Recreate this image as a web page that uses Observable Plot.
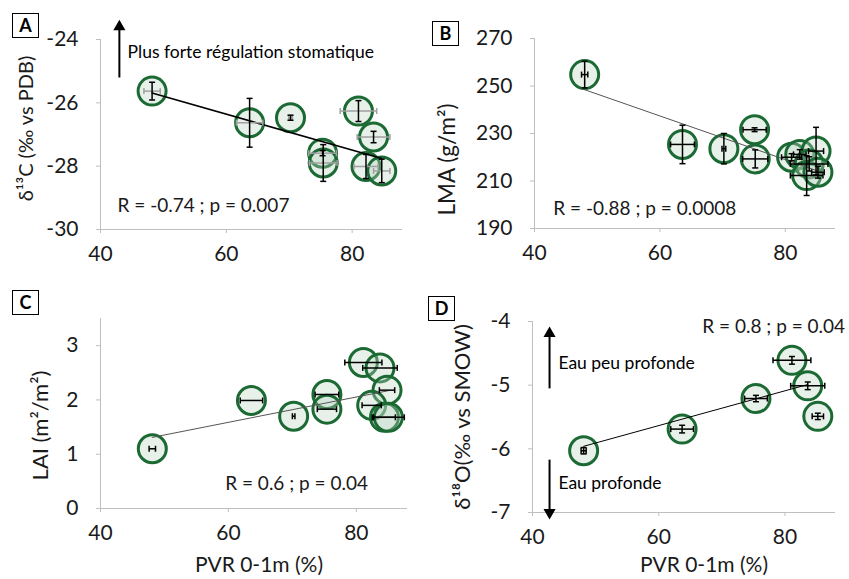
<!DOCTYPE html>
<html><head><meta charset="utf-8">
<script src="https://cdn.jsdelivr.net/npm/d3@7"></script>
<script src="https://cdn.jsdelivr.net/npm/@observablehq/plot@0.6"></script>
<style>
body{margin:0;background:#fff;}
#wrap{position:relative;width:849px;height:579px;overflow:hidden;background:#fff;font-family:Lato,"Open Sans",sans-serif;}
.panel{position:absolute;}
.tag{position:absolute;border:1px solid #000;font:bold 18px Lato,"Open Sans",sans-serif;text-align:center;line-height:23px;width:25px;height:23px;background:#fff;color:#000;}
</style></head><body><div id="wrap"></div>
<script>
// ---------- shared ----------
const xTicks = [40, 60, 80];
const xTitle = "PVR 0-1m (%)";

// ---------- Panel A : δ13C ----------
const pvrA    = [48.2, 63.7, 70.2, 75.3, 75.4, 81.0, 83.4, 82.2, 84.7];
const pvrErrA = [1.3, 2.1, 0.3, 2.2, 2.2, 2.9, 2.6, 1.9, 1.3];
const d13C    = [-25.63, -26.63, -26.47, -27.59, -27.9, -26.26, -27.08, -28.01, -28.15];
const d13CErr = [0.28, 0.77, 0.08, 0.08, 0.58, 0.33, 0.18, 0.38, 0.37];
const fitAx = [48.2, 84.7], fitAy = [-25.69, -27.76];
const yTicksA = [-30, -28, -26, -24];

// ---------- Panel B : LMA ----------
const pvrB    = [48.0, 63.6, 70.2, 75.1, 75.2, 81.0, 82.3, 84.9, 83.8, 83.4, 85.2];
const pvrErrB = [0.5, 1.9, 0.3, 1.85, 2.0, 1.6, 1.0, 1.2, 3.0, 2.6, 1.0];
const lma     = [254.8, 225.4, 223.6, 231.6, 219.3, 220.0, 221.2, 222.6, 217.2, 212.3, 213.7];
const lmaErr  = [5.6, 8.1, 6.4, 0.8, 3.8, 1.5, 2.0, 10.0, 3.0, 8.4, 2.5];
const fitBx = [47.6, 85.2], fitBy = [248.8, 214.2];
const yTicksB = [190, 210, 230, 250, 270];

// ---------- Panel C : LAI ----------
const pvrC    = [48.1, 63.6, 70.2, 75.4, 75.4, 81.1, 83.7, 84.8, 82.4, 84.4, 85.0];
const pvrErrC = [0.5, 1.75, 0.2, 1.85, 1.5, 2.9, 2.7, 1.2, 1.5, 1.7, 2.5];
const lai     = [1.10, 1.99, 1.70, 2.10, 1.83, 2.69, 2.59, 2.18, 1.90, 1.68, 1.68];
const laiErr  = [0, 0, 0, 0, 0, 0, 0, 0, 0, 0, 0];
const fitCx = [48.1, 85.0], fitCy = [1.31, 2.17];
const yTicksC = [0, 1, 2, 3];

// ---------- Panel D : δ18O ----------
const pvrD    = [48.1, 63.7, 75.4, 81.1, 83.6, 85.2];
const pvrErrD = [0.4, 1.8, 1.8, 3.0, 2.7, 0.9];
const d18O    = [-6.03, -5.69, -5.21, -4.61, -5.01, -5.49];
const d18OErr = [0.05, 0.06, 0.05, 0.06, 0.06, 0.05];
const fitDx = [48.1, 83.6], fitDy = [-5.96, -4.99];
const yTicksD = [-7, -6, -5, -4];

// annotations
const statA = "R = -0.74 ; p = 0.007", statB = "R = -0.88 ; p = 0.0008",
      statC = "R = 0.6 ; p = 0.04",    statD = "R = 0.8 ; p = 0.04";
const noteA = "Plus forte régulation stomatique";
const noteD1 = "Eau peu profonde", noteD2 = "Eau profonde";

// ---------- helpers ----------
const capV = {draw(ctx, size){const r = Math.sqrt(size/Math.PI); ctx.moveTo(0,-r); ctx.lineTo(0,r);}};
const capH = {draw(ctx, size){const r = Math.sqrt(size/Math.PI); ctx.moveTo(-r,0); ctx.lineTo(r,0);}};
const FONT = 'Lato, "Open Sans", sans-serif';
const AXIS = "#bfbfbf";

function panel(o){
  const rows = o.x.map((x,i)=>({x, y:o.y[i], xe:o.xe[i], ye:o.ye[i]}));
  const fit = o.fx.map((x,i)=>({x, y:o.fy[i]}));
  const hx = rows.filter(d=>d.xe>0), vy = rows.filter(d=>d.ye>0);
  const marks = [
    Plot.ruleY([o.yDomain[0]], {stroke: AXIS, strokeWidth: 1}),
    Plot.ruleX([40], {stroke: AXIS, strokeWidth: 1}),
    Plot.axisX({ticks: xTicks, tickSize: 4, tickPadding: 13, fontSize: 21, label: null, stroke: AXIS, tickFormat: d=>String(d)}),
    Plot.axisY({ticks: o.yTicks, tickSize: 4, tickPadding: 18, fontSize: 21, label: null, stroke: AXIS, tickFormat: d=>String(d)}),
    Plot.dot(rows, {x:"x", y:"y", r: 14, fill:"#b9d3c0", fillOpacity: 0.35, stroke:"#1b6a33", strokeWidth: 3}),
    Plot.line(fit, {x:"x", y:"y", stroke: o.fitColor, strokeWidth: o.fitWidth}),
    // horizontal error bars
    Plot.link(hx, {x1: d=>d.x-d.xe, x2: d=>d.x+d.xe, y1:"y", y2:"y", stroke: o.xeColor, strokeWidth: 1.5}),
    Plot.dot(hx, {x: d=>d.x-d.xe, y:"y", symbol: capV, r: 3, fill:"none", stroke: o.xeColor, strokeWidth: 1.5}),
    Plot.dot(hx, {x: d=>d.x+d.xe, y:"y", symbol: capV, r: 3, fill:"none", stroke: o.xeColor, strokeWidth: 1.5}),
    // vertical error bars
    Plot.link(vy, {x1:"x", x2:"x", y1: d=>d.y-d.ye, y2: d=>d.y+d.ye, stroke:"#000", strokeWidth: 1.5}),
    Plot.dot(vy, {x:"x", y: d=>d.y-d.ye, symbol: capH, r: 3, fill:"none", stroke:"#000", strokeWidth: 1.5}),
    Plot.dot(vy, {x:"x", y: d=>d.y+d.ye, symbol: capH, r: 3, fill:"none", stroke:"#000", strokeWidth: 1.5}),
    // y title
    Plot.text([o.ylabel], {frameAnchor:"left", rotate:-90, dx:o.ylx, dy:o.yly, fontSize:o.ylf, textAnchor:"middle", lineAnchor:"middle", fill:"#1a1a1a"}),
    // stat text
    Plot.text([o.stat], {x: o.statPos[0], y: o.statPos[1], textAnchor:"start", lineAnchor:"middle", fontSize: 19, fill:"#1a1a1a"}),
    ...(o.extra || [])
  ];
  if (o.showX) marks.push(Plot.text([xTitle], {frameAnchor:"bottom", dx:o.xlx, dy:o.xly, fontSize:21, textAnchor:"middle", lineAnchor:"middle", fill:"#1a1a1a"}));
  return Plot.plot({
    width: o.w, height: o.h,
    marginTop: o.m[0], marginRight: o.m[1], marginBottom: o.m[2], marginLeft: o.m[3],
    x: {domain: [40, 88]},
    y: {domain: o.yDomain},
    style: {fontFamily: FONT, color: "#1a1a1a", background: "transparent", overflow: "visible"},
    marks
  });
}

function arrowMarks(x, yFrom, yTo){
  return [
    Plot.link([0], {x1: ()=>x, x2: ()=>x, y1: ()=>yFrom, y2: ()=>yTo, stroke:"#000", strokeWidth: 2}),
    Plot.dot([0], {x: ()=>x, y: ()=>yTo, symbol:"triangle", r: 4.5, fill:"#000", stroke:"none", rotate: yTo > yFrom ? 0 : 180})
  ];
}

const wrap = document.getElementById("wrap");
function place(svg, left, top){
  const d = document.createElement("div");
  d.className = "panel"; d.style.left = left+"px"; d.style.top = top+"px";
  d.appendChild(svg); wrap.appendChild(d);
}
function tag(letter, left, top){
  const d = document.createElement("div");
  d.className = "tag"; d.textContent = letter; d.style.left = left+"px"; d.style.top = top+"px";
  wrap.appendChild(d);
}

place(panel({
  w: 425, h: 290, m: [39, 23, 61, 100], yDomain: [-30, -24], yTicks: yTicksA,
  x: pvrA, y: d13C, xe: pvrErrA, ye: d13CErr, fx: fitAx, fy: fitAy,
  fitColor: "#000", fitWidth: 1.6, xeColor: "#a0a0a0",
  ylabel: "δ¹³C (‰ vs PDB)", ylx: -74, yly: -6, ylf: 20,
  stat: statA, statPos: [42.7, -29.24],
  extra: [
    ...arrowMarks(43.0, -25.2, -23.6),
    Plot.text([noteA], {x: 44.3, y: -24.4, textAnchor:"start", lineAnchor:"middle", fontSize: 17.5, fill:"#000"})
  ]
}), 0, 0);

place(panel({
  w: 424, h: 290, m: [38, 14, 62, 109], yDomain: [190, 270], yTicks: yTicksB,
  x: pvrB, y: lma, xe: pvrErrB, ye: lmaErr, fx: fitBx, fy: fitBy,
  fitColor: "#555", fitWidth: 1, xeColor: "#000",
  ylabel: "LMA (g/m²)", ylx: -87, yly: 26, ylf: 22.5,
  stat: statB, statPos: [43.0, 198.4]
}), 425, 0);

place(panel({
  w: 425, h: 289, m: [28, 18, 71, 100], yDomain: [0, 3.5], yTicks: yTicksC,
  x: pvrC, y: lai, xe: pvrErrC, ye: laiErr, fx: fitCx, fy: fitCy,
  fitColor: "#555", fitWidth: 1, xeColor: "#000",
  ylabel: "LAI (m²/m²)", ylx: -60, yly: 12, ylf: 22,
  stat: statC, statPos: [59.5, 0.46],
  showX: true, xlx: 5, xly: 57
}), 0, 290);

place(panel({
  w: 424, h: 289, m: [31, 14, 67, 107], yDomain: [-7, -4], yTicks: yTicksD,
  x: pvrD, y: d18O, xe: pvrErrD, ye: d18OErr, fx: fitDx, fy: fitDy,
  fitColor: "#000", fitWidth: 1, xeColor: "#000",
  ylabel: "δ¹⁸O(‰ vs SMOW)", ylx: -69.5, yly: 0, ylf: 22,
  stat: statD, statPos: [66.9, -4.09],
  showX: true, xlx: 20, xly: 53,
  extra: [
    ...arrowMarks(42.7, -5.05, -4.19),
    ...arrowMarks(42.7, -6.17, -7.0),
    Plot.text([noteD1], {x: 44.1, y: -4.66, textAnchor:"start", lineAnchor:"middle", fontSize: 17.5, fill:"#000"}),
    Plot.text([noteD2], {x: 44.1, y: -6.54, textAnchor:"start", lineAnchor:"middle", fontSize: 17.5, fill:"#000"})
  ]
}), 425, 290);

tag("A", 12, 13);
tag("B", 432, 21);
tag("C", 12, 290);
tag("D", 428, 296);
</script></body></html>
